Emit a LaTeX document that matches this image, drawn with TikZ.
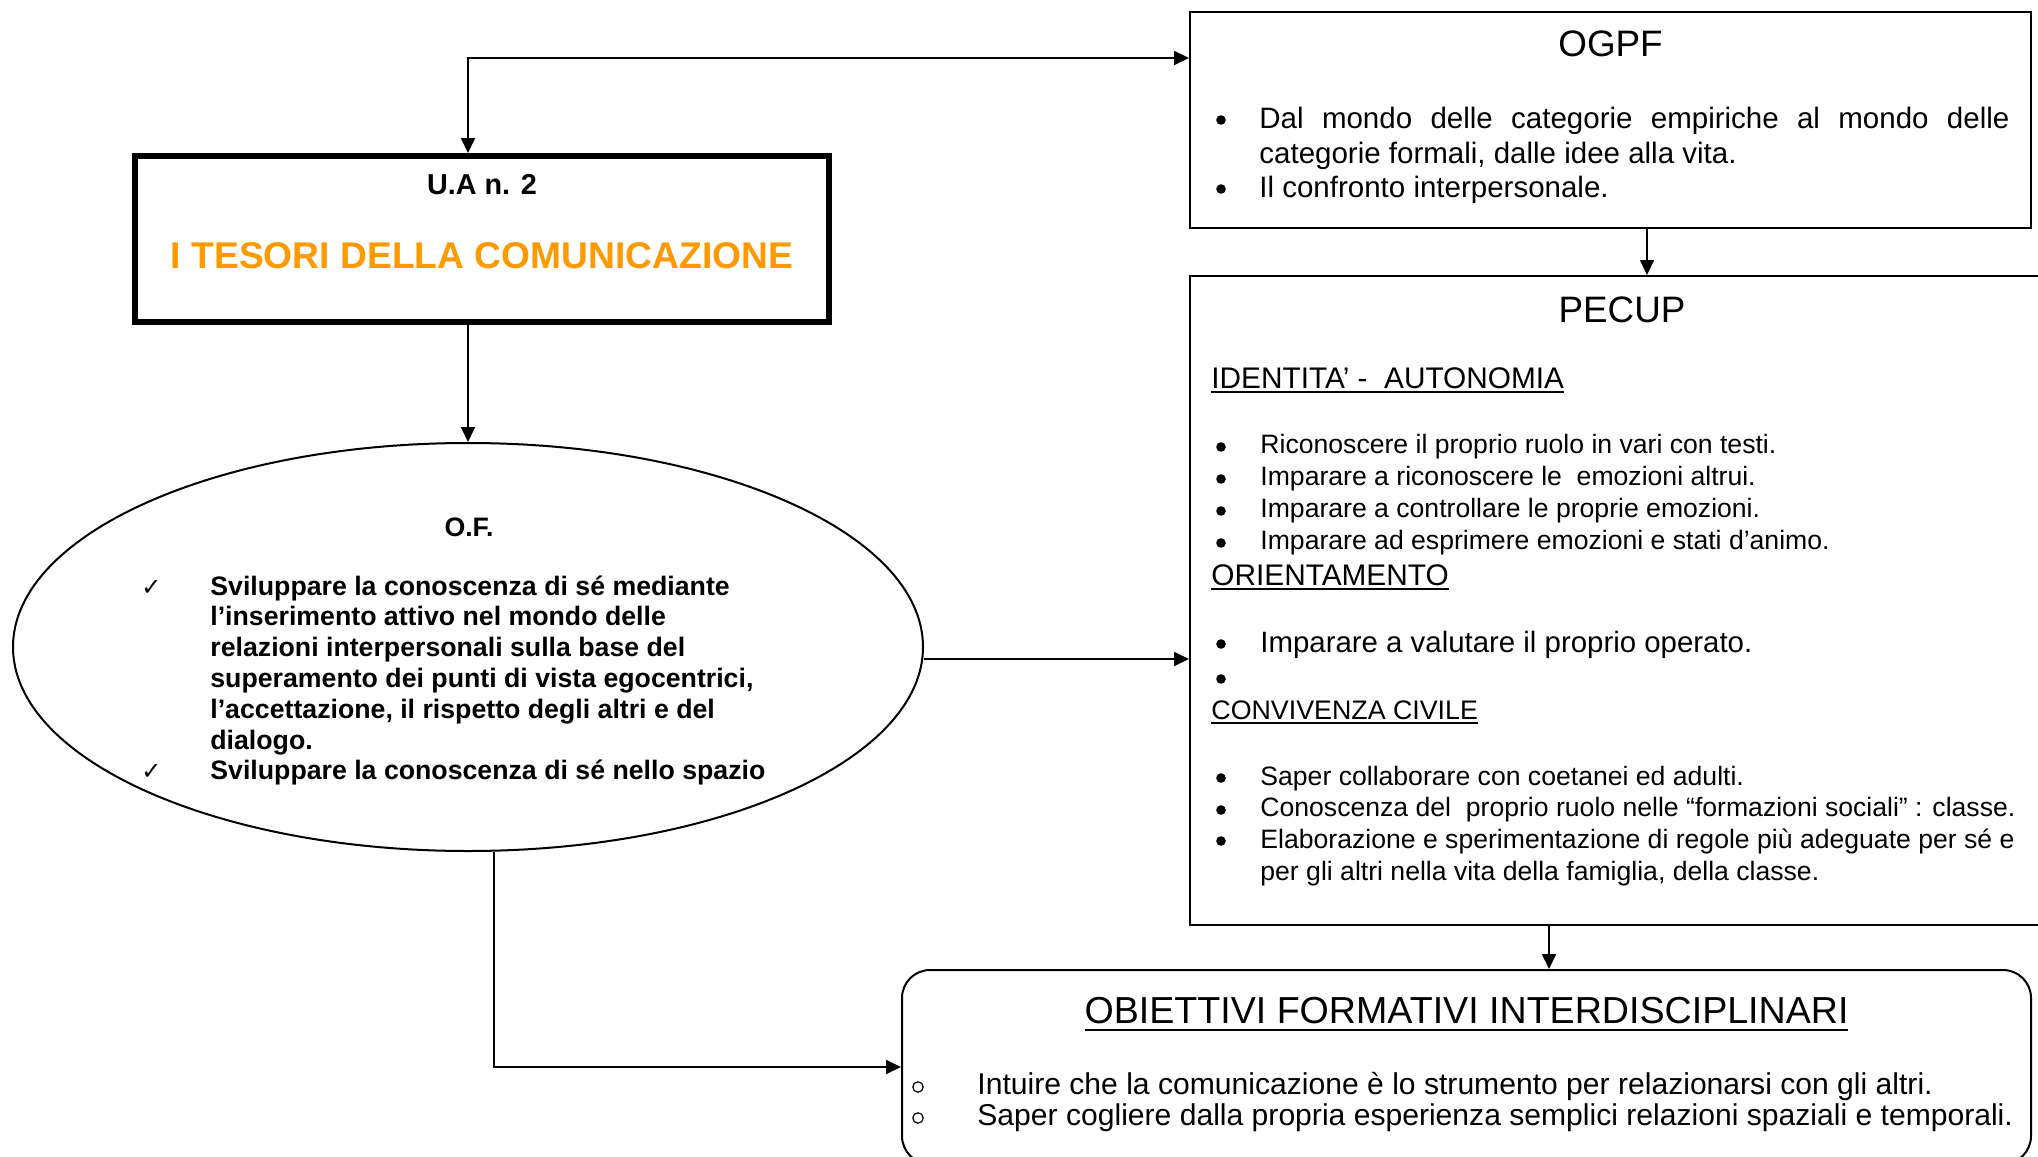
\documentclass[tikz,border=0pt]{standalone}
\usepackage{fontspec}
\setmainfont{Liberation Sans}
\newfontfamily\checkfont{DejaVu Sans}
\usetikzlibrary{shapes.geometric, arrows.meta, calc, positioning}

\definecolor{unitorange}{RGB}{255,153,0}

\newcommand{\titlesize}{\fontsize{18.4pt}{22pt}\selectfont}
\newcommand{\headsize}{\fontsize{14.9pt}{17.25pt}\selectfont}
\newcommand{\listsize}{\fontsize{13.3pt}{16.1pt}\selectfont}
\newcommand{\goalsize}{\fontsize{13.35pt}{15.4pt}\selectfont\bfseries}
\newcommand{\aimsize}{\fontsize{15.05pt}{15.8pt}\selectfont}
\newcommand{\plainspace}{\spaceskip=0pt\xspaceskip=0pt\relax}

\newsavebox{\ulinebox}
\newcommand{\ulinetext}[3]{\leavevmode\sbox{\ulinebox}{#3}\rlap{\rule[#1]{\wd\ulinebox}{#2}}\usebox{\ulinebox}}
\newcommand{\tick}{\leavevmode\llap{{\checkfont\mdseries\fontsize{12pt}{0pt}\selectfont ✓}\hspace{24.5pt}}}

\tikzstyle{panel} = [rectangle, draw=black, line width=1pt, inner sep=0pt]
\tikzstyle{unit} = [rectangle, draw=black, line width=3pt, inner sep=0pt, minimum width=347pt, minimum height=83pt]
\tikzstyle{goal} = [ellipse, draw=black, line width=1pt, inner sep=0pt, minimum width=455pt, minimum height=204pt]
\tikzstyle{aim} = [rectangle, rounded corners=14pt, draw=black, line width=1pt, inner sep=0pt, minimum width=564.5pt, minimum height=97pt]
\tikzstyle{listtext} = [inner sep=0pt, anchor=base west, text width=420pt]
\tikzstyle{bulletdot} = [circle, fill=black, inner sep=0pt, minimum size=4.8pt]
\tikzstyle{ringdot} = [circle, draw=black, line width=0.6pt, inner sep=0pt, minimum size=5.2pt]
\tikzstyle{arrow} = [line width=0.9pt, -{Triangle[length=7.5pt,width=7pt]}]
\tikzstyle{twoway} = [line width=0.9pt, {Triangle[length=7.5pt,width=7pt]}-{Triangle[length=7.5pt,width=7pt]}]

\begin{document}
\begin{tikzpicture}[x=0.5pt, y=-0.5pt]
  \useasboundingbox (0,0) rectangle (2038,1156);
  \clip (0,0) rectangle (2038,1156);

  % frames
  \node (ua) [unit] at (482,239) {};
  \node (of) [goal] at (468,647) {};
  \node (ogpf) [panel, minimum width=420.5pt, minimum height=108pt] at (1610.5,120) {};
  \node (pecup) [panel, minimum width=432pt, minimum height=324.5pt, below right=23pt and 0pt of ogpf.south west] {};
  \node (ofi) [aim] at (1466.5,1067) {};

  % unita' di apprendimento
  \node (uanum) [anchor=base, font=\fontsize{14.4pt}{17pt}\selectfont\bfseries] at (482,194) {U.A n. 2};
  \node (uatitle) [anchor=base, text=unitorange, font=\fontsize{18.6pt}{21pt}\selectfont\bfseries] at (482,268) {I TESORI DELLA COMUNICAZIONE};

  % ogpf
  \node (ogpftitle) [anchor=base, font=\titlesize] at (1610.5,57) {OGPF};
  \node (ogpflist) [listtext, font=\fontsize{14.75pt}{17.25pt}\selectfont] at (1259,128.5)
    {\plainspace\makebox[375pt][s]{Dal mondo delle categorie empiriche al mondo delle}\\
    categorie formali, dalle idee alla vita.\\
    Il confronto interpersonale.};
  \foreach \y [count=\i] in {120,189}
    \node (ogpfdot\i) [bulletdot] at (1221,\y) {};

  % pecup
  \node (pecuptitle) [anchor=base, font=\titlesize] at (1622,322) {PECUP};
  \node (identity) [listtext, font=\headsize] at (1211,388) {\plainspace\ulinetext{-2.6pt}{1pt}{IDENTITA’ -\ \ AUTONOMIA}};
  \node (identitylist) [listtext, font=\listsize] at (1260,453) {\plainspace Riconoscere il proprio ruolo in vari con testi.\\
    Imparare a riconoscere le\ \ emozioni altrui.\\
    Imparare a controllare le proprie emozioni.\\
    Imparare ad esprimere emozioni e stati d’animo.};
  \node (orient) [listtext, font=\headsize] at (1211,585) {\plainspace\ulinetext{-2.6pt}{1pt}{ORIENTAMENTO}};
  \node (orientlist) [listtext, font=\fontsize{14.7pt}{17pt}\selectfont] at (1260,652) {\plainspace Imparare a valutare il proprio operato.};
  \node (civil) [listtext, font=\fontsize{13.4pt}{16pt}\selectfont] at (1211,719) {\plainspace\ulinetext{-2.4pt}{1pt}{CONVIVENZA CIVILE}};
  \node (civillist) [listtext, font=\fontsize{13.3pt}{15.9pt}\selectfont] at (1260,785) {\plainspace Saper collaborare con coetanei ed adulti.\\
    Conoscenza del\ \ proprio ruolo nelle “formazioni sociali” : classe.\\
    Elaborazione e sperimentazione di regole più adeguate per sé e\\
    per gli altri nella vita della famiglia, della classe.};
  \foreach \y [count=\i] in {447,479,511,543,644,679,778,810,841}
    \node (pecupdot\i) [bulletdot] at (1221,\y) {};

  % obiettivi formativi
  \node (oftitle) [anchor=base, font=\goalsize] at (469,536) {O.F.};
  \node (oflist) [listtext, font=\goalsize] at (210,595) {\plainspace\tick Sviluppare la conoscenza di sé mediante\\
    l’inserimento attivo nel mondo delle\\
    relazioni interpersonali sulla base del\\
    superamento dei punti di vista egocentrici,\\
    l’accettazione, il rispetto degli altri e del\\
    dialogo.\\
    \tick Sviluppare la conoscenza di sé nello spazio};

  % obiettivi interdisciplinari
  \node (ofititle) [anchor=base, font=\fontsize{18.8pt}{21pt}\selectfont] at (1466.5,1023) {\ulinetext{-4pt}{1.2pt}{OBIETTIVI FORMATIVI INTERDISCIPLINARI}};
  \node (ofilist) [listtext, text width=545pt, font=\aimsize] at (977,1094) {\plainspace Intuire che la comunicazione è lo strumento per relazionarsi con gli altri.\\
    Saper cogliere dalla propria esperienza semplici relazioni spaziali e temporali.};
  \node (ofiring1) [ringdot] at (918,1087) {};
  \node (ofiring2) [ringdot] at (918,1118) {};

  % connectors
  \coordinate (ogpfin) at ([yshift=-23.5pt]ogpf.north west);
  \coordinate (ogpfout) at ([xshift=18.25pt]ogpf.south);
  \coordinate (ofout) at ([yshift=-6pt]of.east);
  \coordinate (pecupout) at ([xshift=-36.5pt]pecup.south);
  \coordinate (ofdown) at ([xshift=13pt]of.south);

  \draw [twoway] (of.north |- ua.north) |- (ogpfin);
  \draw [arrow] (of.north |- ua.south) -- (of.north);
  \draw [arrow] (ogpfout) -- (ogpfout |- pecup.north);
  \draw [arrow] (ofout) -- (ofout -| pecup.west);
  \draw [arrow] (pecupout) -- (pecupout |- ofi.north);
  \draw [arrow] (ofdown) |- (ofi.west);
\end{tikzpicture}
\end{document}
